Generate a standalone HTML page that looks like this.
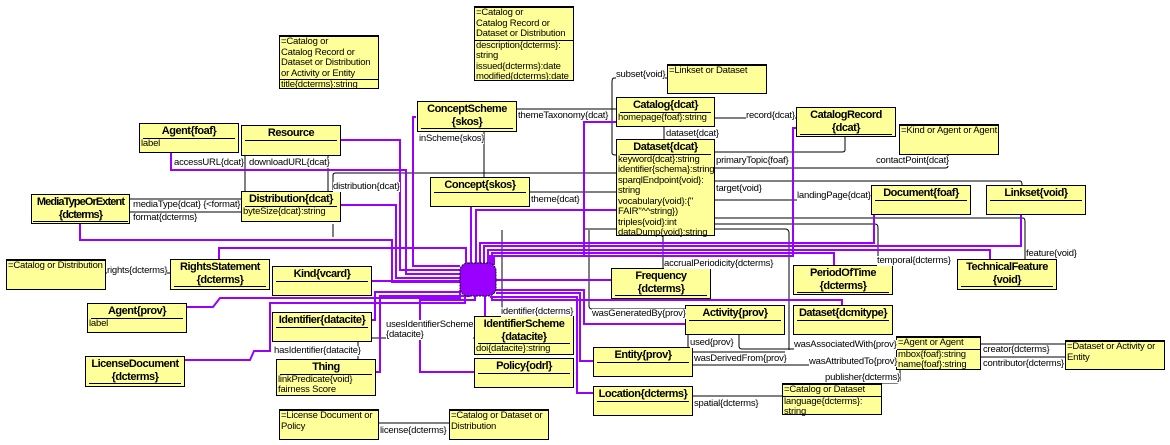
<!DOCTYPE html>
<html><head><meta charset="utf-8"><style>
body{margin:0;width:1170px;height:445px;background:#fff;position:relative;overflow:hidden;font-family:"Liberation Sans",Arial,sans-serif;}
.b{position:absolute;background:#ffff99;border:1px solid #000;box-sizing:border-box;font-size:9.5px;line-height:10.5px;letter-spacing:-0.2px;}
.h{font-weight:bold;font-size:11px;line-height:12.5px;text-align:center;border-bottom:1px solid #000;margin:1px 3px 0 3px;letter-spacing:-0.5px;padding-bottom:0px;white-space:nowrap}
.a{padding-left:1px;white-space:nowrap}
.n .t{border-bottom:1px solid #000;padding-left:1px;white-space:nowrap}
.n{border-top:2px solid #000}
.l{position:absolute;font-size:9.5px;line-height:10px;white-space:nowrap;letter-spacing:-0.2px;background:#fff}
svg{position:absolute;left:0;top:0}
</style></head><body>
<svg width="1170" height="445">
<g fill="none" stroke="#000" stroke-width="1">
<path d="M245 155V191M328 155V191"/>
<path d="M129 199H241M129 212H241"/>
<path d="M333 190V175Q333 173 336 173H616"/>
<path d="M400 173H616"/>
<path d="M516 109H616"/>
<path d="M529 192H616"/>
<path d="M484 131V177"/>
<path d="M667 78H614Q612 78 612 82V153Q612 155 616 155"/>
<path d="M664 126V139"/>
<path d="M714 118H796"/>
<path d="M845 136V150Q845 152 842 152H714"/>
<path d="M948 154V166Q948 168 945 168H714"/>
<path d="M714 181H1020Q1022 181 1022 185"/>
<path d="M714 200H871"/>
<path d="M714 218H1023Q1025 218 1025 222V259"/>
<path d="M714 224H875Q878 224 878 228V265"/>
<path d="M663 235V268"/>
<path d="M502 230V316"/>
<path d="M589 230V306Q589 309 592 309H685"/>
<path d="M584 229H785Q789 229 789 233V350"/>
<path d="M688 334V347"/>
<path d="M739 334V346Q739 349 742 349H896"/>
<path d="M692 365H896"/>
<path d="M692 352H785"/>
<path d="M900 369V380Q900 383 896 383H881"/>
<path d="M1065 344H980M1065 357H980"/>
<path d="M782 396H692"/>
<path d="M371 338H474"/>
<path d="M358 341V359"/>
<path d="M105 273H170"/>
<path d="M378 423H449"/>
<path d="M333 237V224"/>
</g>
<g fill="none" stroke="#9900ff" stroke-width="2">
<path d="M340 140H400V270H460"/>
<path d="M171 152V170H406V274H460"/>
<path d="M340 205H396V278H460"/>
<path d="M80 223V240H392V282H460"/>
<path d="M416 117H413V266H460"/>
<path d="M616 122H584V256H490V263"/>
<path d="M616 210H476V263"/>
<path d="M796 128H793V256H494V265"/>
<path d="M874 214V243H480V263"/>
<path d="M1021 214V246H484V263"/>
<path d="M990 259V250H488V263"/>
<path d="M834 265V253H492V265"/>
<path d="M471 206V263"/>
<path d="M219 259V248H466V263"/>
<path d="M371 281H460"/>
<path d="M186 307H213L220 298H460V290"/>
<path d="M184 360H250L254 351H270V303H465V296"/>
<path d="M371 320H375V292H460"/>
<path d="M375 372H380V296H470"/>
<path d="M485 316V296"/>
<path d="M474 372H420V300H475V296"/>
<path d="M611 280H496"/>
<path d="M685 324H584V290H496"/>
<path d="M593 361H580V293H496"/>
<path d="M593 393H577V297H490"/>
<path d="M842 305V300H492V296"/>
</g>
<rect x="460" y="263" width="36" height="33" rx="8" fill="#9900ff" stroke="#000" stroke-width="1" stroke-dasharray="2,1"/>
</svg>

<div class="b n" style="left:279px;top:35px;width:100px;height:54px"><div class="t">=Catalog or<br>Catalog Record or<br>Dataset or Distribution<br>or Activity or Entity</div><div class="a">title{dcterms}:string</div></div>
<div class="b n" style="left:474px;top:6px;width:100px;height:75px"><div class="t">=Catalog or<br>Catalog Record or<br>Dataset or Distribution</div><div class="a">description{dcterms}:<br>string<br>issued{dcterms}:date<br>modified{dcterms}:date</div></div>
<div class="b n" style="left:667px;top:64px;width:100px;height:30px"><div class="a">=Linkset or Dataset</div></div>
<div class="b" style="left:417px;top:101px;width:100px;height:31px"><div class="h">ConceptScheme<br>{skos}</div></div>
<div class="b" style="left:616px;top:97px;width:99px;height:30px"><div class="h">Catalog{dcat}</div><div class="a">homepage{foaf}:string</div></div>
<div class="b" style="left:616px;top:139px;width:99px;height:97px"><div class="h">Dataset{dcat}</div><div class="a">keyword{dcat}:string<br>identifier{schema}:string<br>sparqlEndpoint{void}:<br>string<br>vocabulary{void}:{"<br>FAIR"^^string})<br>triples{void}:int<br>dataDump{void}:string</div></div>
<div class="b" style="left:796px;top:107px;width:100px;height:30px"><div class="h">CatalogRecord<br>{dcat}</div></div>
<div class="b n" style="left:899px;top:124px;width:100px;height:31px"><div class="a">=Kind or Agent or Agent</div></div>
<div class="b" style="left:139px;top:123px;width:100px;height:30px"><div class="h">Agent{foaf}</div><div class="a">label</div></div>
<div class="b" style="left:241px;top:125px;width:100px;height:31px"><div class="h">Resource</div></div>
<div class="b" style="left:241px;top:191px;width:100px;height:31px"><div class="h">Distribution{dcat}</div><div class="a">byteSize{dcat}:string</div></div>
<div class="b" style="left:31px;top:194px;width:99px;height:30px"><div class="h" style="letter-spacing:-0.9px;margin:1px 1px 0 1px">MediaTypeOrExtent<br>{dcterms}</div></div>
<div class="b" style="left:430px;top:177px;width:100px;height:30px"><div class="h">Concept{skos}</div></div>
<div class="b" style="left:871px;top:185px;width:100px;height:30px"><div class="h">Document{foaf}</div></div>
<div class="b" style="left:986px;top:185px;width:100px;height:30px"><div class="h">Linkset{void}</div></div>
<div class="b n" style="left:6px;top:259px;width:100px;height:31px"><div class="a">=Catalog or Distribution</div></div>
<div class="b" style="left:170px;top:259px;width:100px;height:31px"><div class="h">RightsStatement<br>{dcterms}</div></div>
<div class="b" style="left:272px;top:266px;width:100px;height:30px"><div class="h">Kind{vcard}</div></div>
<div class="b" style="left:87px;top:303px;width:100px;height:30px"><div class="h">Agent{prov}</div><div class="a">label</div></div>
<div class="b" style="left:272px;top:312px;width:100px;height:30px"><div class="h">Identifier{datacite}</div></div>
<div class="b" style="left:276px;top:359px;width:100px;height:37px"><div class="h">Thing</div><div class="a">linkPredicate{void}<br>fairness Score</div></div>
<div class="b" style="left:85px;top:356px;width:100px;height:31px"><div class="h">LicenseDocument<br>{dcterms}</div></div>
<div class="b" style="left:474px;top:316px;width:100px;height:39px"><div class="h">IdentifierScheme<br>{datacite}</div><div class="a">doi{datacite}:string</div></div>
<div class="b" style="left:474px;top:358px;width:100px;height:30px"><div class="h">Policy{odrl}</div></div>
<div class="b n" style="left:279px;top:409px;width:100px;height:31px"><div class="a">=License Document or<br>Policy</div></div>
<div class="b n" style="left:449px;top:409px;width:100px;height:31px"><div class="a">=Catalog or Dataset or<br>Distribution</div></div>
<div class="b" style="left:611px;top:268px;width:100px;height:31px"><div class="h">Frequency<br>{dcterms}</div></div>
<div class="b" style="left:685px;top:305px;width:100px;height:30px"><div class="h">Activity{prov}</div></div>
<div class="b" style="left:593px;top:347px;width:100px;height:30px"><div class="h">Entity{prov}</div></div>
<div class="b" style="left:593px;top:386px;width:100px;height:30px"><div class="h">Location{dcterms}</div></div>
<div class="b" style="left:793px;top:265px;width:100px;height:30px"><div class="h">PeriodOfTime<br>{dcterms}</div></div>
<div class="b" style="left:957px;top:259px;width:100px;height:31px"><div class="h">TechnicalFeature<br>{void}</div></div>
<div class="b" style="left:793px;top:305px;width:100px;height:30px"><div class="h">Dataset{dcmitype}</div></div>
<div class="b n" style="left:896px;top:336px;width:85px;height:34px"><div class="t">=Agent or Agent</div><div class="a">mbox{foaf}:string<br>name{foaf}:string</div></div>
<div class="b n" style="left:1065px;top:340px;width:100px;height:30px"><div class="a">=Dataset or Activity or<br>Entity</div></div>
<div class="b n" style="left:782px;top:383px;width:100px;height:32px"><div class="t">=Catalog or Dataset</div><div class="a">language{dcterms}:<br>string</div></div>

<div class="l" style="left:174px;top:158px">accessURL{dcat}</div>
<div class="l" style="left:249px;top:158px">downloadURL{dcat}</div>
<div class="l" style="left:333px;top:182px">distribution{dcat}</div>
<div class="l" style="left:133px;top:200px">mediaType{dcat} {&lt;format}</div>
<div class="l" style="left:133px;top:213px">format{dcterms}</div>
<div class="l" style="left:518px;top:111px">themeTaxonomy{dcat}</div>
<div class="l" style="left:419px;top:134px">inScheme{skos}</div>
<div class="l" style="left:616px;top:70px">subset{void}</div>
<div class="l" style="left:746px;top:111px">record{dcat}</div>
<div class="l" style="left:666px;top:129px">dataset{dcat}</div>
<div class="l" style="left:716px;top:156px">primaryTopic{foaf}</div>
<div class="l" style="left:876px;top:156px">contactPoint{dcat}</div>
<div class="l" style="left:716px;top:184px">target{void}</div>
<div class="l" style="left:797px;top:191px">landingPage{dcat}</div>
<div class="l" style="left:531px;top:195px">theme{dcat}</div>
<div class="l" style="left:1026px;top:249px">feature{void}</div>
<div class="l" style="left:877px;top:256px">temporal{dcterms}</div>
<div class="l" style="left:664px;top:259px">accrualPeriodicity{dcterms}</div>
<div class="l" style="left:107px;top:266px">rights{dcterms}</div>
<div class="l" style="left:501px;top:307px">identifier{dcterms}</div>
<div class="l" style="left:592px;top:309px">wasGeneratedBy{prov}</div>
<div class="l" style="left:386px;top:320px">usesIdentifierScheme<br>{datacite}</div>
<div class="l" style="left:274px;top:346px">hasIdentifier{datacite}</div>
<div class="l" style="left:690px;top:338px">used{prov}</div>
<div class="l" style="left:694px;top:354px">wasDerivedFrom{prov}</div>
<div class="l" style="left:794px;top:340px">wasAssociatedWith{prov}</div>
<div class="l" style="left:809px;top:357px">wasAttributedTo{prov}</div>
<div class="l" style="left:983px;top:345px">creator{dcterms}</div>
<div class="l" style="left:983px;top:359px">contributor{dcterms}</div>
<div class="l" style="left:825px;top:373px">publisher{dcterms}</div>
<div class="l" style="left:694px;top:399px">spatial{dcterms}</div>
<div class="l" style="left:380px;top:426px">license{dcterms}</div>
</body></html>
